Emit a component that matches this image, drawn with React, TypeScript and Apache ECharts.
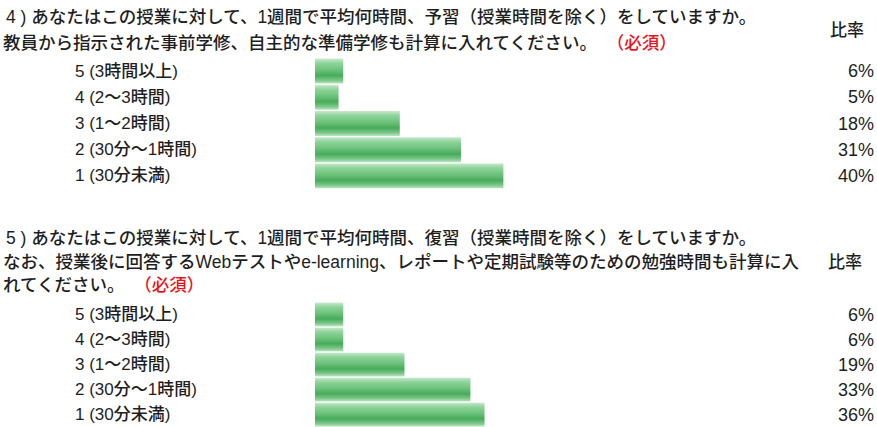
import React, { useEffect, useRef } from "react";
import * as echarts from "echarts";

const categories = ["5 (3時間以上)", "4 (2〜3時間)", "3 (1〜2時間)", "2 (30分〜1時間)", "1 (30分未満)"];
const q4Values = [6, 5, 18, 31, 40];
const q5Values = [6, 6, 19, 33, 36];

const q4Line1 = "4 ) あなたはこの授業に対して、1週間で平均何時間、予習（授業時間を除く）をしていますか。";
const q4Line2 = "教員から指示された事前学修、自主的な準備学修も計算に入れてください。";
const q5Line1 = "5 ) あなたはこの授業に対して、1週間で平均何時間、復習（授業時間を除く）をしていますか。";
const q5Line2 = "なお、授業後に回答するWebテストやe-learning、レポートや定期試験等のための勉強時間も計算に入";
const q5Line3 = "れてください。";
const required = "（必須）";
const ratioLabel = "比率";

const FONT = '"Liberation Sans", "Noto Sans CJK JP", sans-serif';
const TXT = "#1e1e1e";
const RED = "#e8141c";

export default function App() {
  const ref = useRef<HTMLDivElement>(null);
  useEffect(() => {
    if (!ref.current) return;
    const chart = echarts.init(ref.current, null, { renderer: "svg" });
    const barColor = new echarts.graphic.LinearGradient(0, 0, 0, 1, [
      { offset: 0, color: "#c6e9cc" },
      { offset: 0.18, color: "#8fd49b" },
      { offset: 0.45, color: "#6cc27b" },
      { offset: 0.68, color: "#47ab5b" },
      { offset: 0.88, color: "#7dc98a" },
      { offset: 1, color: "#bde4c3" },
    ]);
    const grids = [
      { left: 315, top: 58, width: 472.5, height: 131 },
      { left: 315, top: 302, width: 472.5, height: 131 },
    ];
    const values = [q4Values, q5Values];
    const xAxis = grids.map((_, i) => ({
      type: "value",
      gridIndex: i,
      min: 0,
      max: 100,
      show: false,
    }));
    const yAxis: any[] = [];
    grids.forEach((_, i) => {
      yAxis.push({
        type: "category",
        gridIndex: i,
        data: categories,
        inverse: true,
        position: "left",
        axisLine: { show: false },
        axisTick: { show: false },
        splitLine: { show: false },
        axisLabel: {
          align: "left",
          margin: 240,
          color: TXT,
          fontSize: 17,
          fontWeight: 500,
          fontFamily: FONT,
        },
      });
      yAxis.push({
        type: "category",
        gridIndex: i,
        data: values[i].map((v) => v + "%"),
        inverse: true,
        position: "right",
        axisLine: { show: false },
        axisTick: { show: false },
        splitLine: { show: false },
        axisLabel: {
          align: "right",
          margin: 88,
          color: TXT,
          fontSize: 18,
          fontFamily: FONT,
        },
      });
    });
    const series = values.map((vals, i) => ({
      type: "bar",
      xAxisIndex: i,
      yAxisIndex: i * 2,
      data: vals,
      barCategoryGap: "5%",
      itemStyle: { color: barColor },
      silent: true,
    }));
    const textStyle = (x: number, y: number, text: string) => ({
      type: "text",
      x,
      y,
      style: {
        text,
        fill: TXT,
        fontSize: 17.5,
        fontWeight: 500,
        fontFamily: FONT,
        verticalAlign: "middle",
        rich: {
          r: { fill: RED, fontSize: 17.5, fontWeight: 500, fontFamily: FONT },
        },
      },
    });
    chart.setOption({
      animation: false,
      grid: grids,
      xAxis,
      yAxis,
      series,
      graphic: [
        textStyle(6, 17, q4Line1),
        textStyle(3, 43, q4Line2 + "　{r|" + required + "}"),
        {
          type: "text",
          x: 847,
          y: 30,
          style: { text: ratioLabel, fill: TXT, fontSize: 17, fontWeight: 500, fontFamily: FONT, align: "center", verticalAlign: "middle" },
        },
        textStyle(6, 238, q5Line1),
        textStyle(3, 262, q5Line2),
        textStyle(3, 285, q5Line3 + "　{r|" + required + "}"),
        {
          type: "text",
          x: 845,
          y: 262,
          style: { text: ratioLabel, fill: TXT, fontSize: 17, fontWeight: 500, fontFamily: FONT, align: "center", verticalAlign: "middle" },
        },
      ],
    });
    return () => chart.dispose();
  }, []);
  return (
    <div
      ref={ref}
      style={{ position: "fixed", left: 0, top: 0, width: 877, height: 427, background: "#ffffff" }}
    />
  );
}
